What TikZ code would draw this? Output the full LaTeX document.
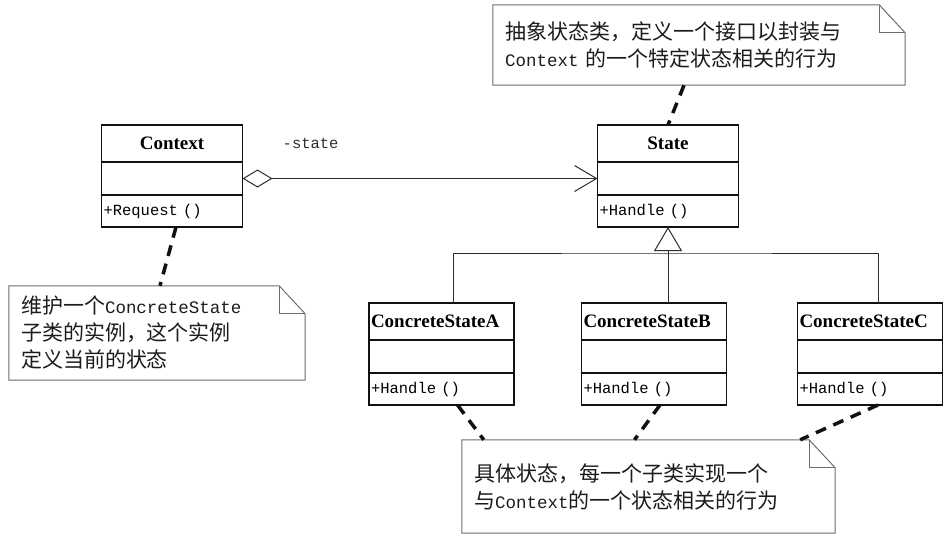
\documentclass[tikz,border=0pt]{standalone}
\usepackage{fontspec}
\setmainfont{Liberation Serif}
\setmonofont{Liberation Mono}
\newfontfamily\cjk{Noto Sans CJK SC}
\usetikzlibrary{arrows.meta,positioning}
\definecolor{ink}{HTML}{111111}
\definecolor{rule}{HTML}{2E2E2E}
\definecolor{noteline}{HTML}{6E6E6E}
\definecolor{notetext}{HTML}{1C1C1C}
\newcommand{\foldnote}[1]{%
  \draw[notebd] (#1.north west) -- ([xshift=-26pt]#1.north east) -- ([yshift=-28pt]#1.north east)
    -- (#1.south east) -- (#1.south west) -- cycle;
  \draw[notebd] ([xshift=-26pt]#1.north east) |- ([yshift=-28pt]#1.north east);}
\tikzset{>=Latex,
  cls/.style={draw=ink,line width=1.6pt,minimum width=141pt,inner sep=0pt,outer sep=0pt},
  wide/.style={minimum width=145pt,text width=141pt},
  clsname/.style={cls,minimum height=37pt,font=\fontsize{19}{21}\selectfont\bfseries},
  clsattr/.style={cls,minimum height=33pt},
  clsop/.style={cls,minimum height=32pt,text width=137pt,align=left,font=\fontsize{15.5}{18}\selectfont\ttfamily},
  note/.style={inner xsep=12pt,inner ysep=0pt,align=left,text=notetext,font=\fontsize{21}{27}\selectfont},
  notebd/.style={draw=noteline,line width=1pt},
  notelink/.style={draw=ink,line width=3.5pt,dash pattern=on 11pt off 8pt},
  line/.style={draw=rule,line width=1pt},
  assoc/.style={line,{Diamond[open,length=30pt,width=18pt]}-{Straight Barb[length=22pt,width=26pt]}},
  gen/.style={line,-{Triangle[open,length=24pt,width=28pt]}},
  role/.style={font=\fontsize{15.5}{18}\selectfont\ttfamily,text=rule,inner sep=2pt}}
\begin{document}
\begin{tikzpicture}[x=1pt,y=-1pt]
\fill[white] (0,0) rectangle (948,536);
\useasboundingbox (0,0) rectangle (948,536);
% classes
\node[clsname,anchor=north] (ctx) at (172,125) {Context};
\node[clsattr,below=0pt of ctx] (ctx-a) {};
\node[clsop,below=0pt of ctx-a] (ctx-o) {+Request ()};
\node[clsname,anchor=north] (state) at (668,125) {State};
\node[clsattr,below=0pt of state] (state-a) {};
\node[clsop,below=0pt of state-a] (state-o) {+Handle ()};
\foreach \s/\x in {A/441.5,B/654,C/870}{
  \node[clsname,wide,anchor=north] (cs\s) at (\x,303) {ConcreteState\s};
  \node[clsattr,wide,below=0pt of cs\s] (cs\s-a) {};
  \node[clsop,wide,below=0pt of cs\s-a] (cs\s-o) {+Handle ()};
}
% association
\draw[assoc] (ctx-a.east) -- (state-a.west);
\node[role,right=38pt of ctx.east] (rolelbl) {-state};
% generalisation
\coordinate (fork) at ([yshift=-26pt]state-o.south);
\draw[line] ([xshift=12pt]csA.north) |- (fork) -| ([xshift=8pt]csC.north);
\draw[line] (fork) -- (fork |- csB.north);
\draw[gen] (fork) -- (state-o.south);
% notes
\node[note,minimum width=412pt,minimum height=80pt,text width=388pt] (noteT) at (699,45)
  {{\cjk 抽象状态类，定义一个接口以封装与}\\{\fontsize{17.5}{27}\selectfont\ttfamily Context} {\cjk 的一个特定状态相关的行为}};
\foldnote{noteT}
\node[note,minimum width=296pt,minimum height=94pt,text width=272pt] (noteL) at (157,333)
  {{\cjk 维护一个}{\fontsize{17.5}{27}\selectfont\ttfamily ConcreteState}\\{\cjk 子类的实例，这个实例}\\{\cjk 定义当前的状态}};
\foldnote{noteL}
\node[note,minimum width=373pt,minimum height=93pt,text width=349pt] (noteB) at (648.5,486.5)
  {{\cjk 具体状态，每一个子类实现一个}\\{\cjk 与}{\fontsize{17.5}{27}\selectfont\ttfamily Context}{\cjk 的一个状态相关的行为}};
\foldnote{noteB}
% note links
\draw[notelink] ([xshift=-15pt]noteT.south) -- (state.north);
\draw[notelink] ([xshift=4pt]ctx-o.south) -- ([xshift=3pt]noteL.north);
\draw[notelink] ([xshift=16pt]csA-o.south) -- ([xshift=22pt]noteB.north west);
\draw[notelink] ([xshift=6pt]csB-o.south) -- ([xshift=-14pt]noteB.north);
\draw[notelink] ([xshift=8pt]csC-o.south) -- ([xshift=-35pt]noteB.north east);
\end{tikzpicture}
\end{document}
